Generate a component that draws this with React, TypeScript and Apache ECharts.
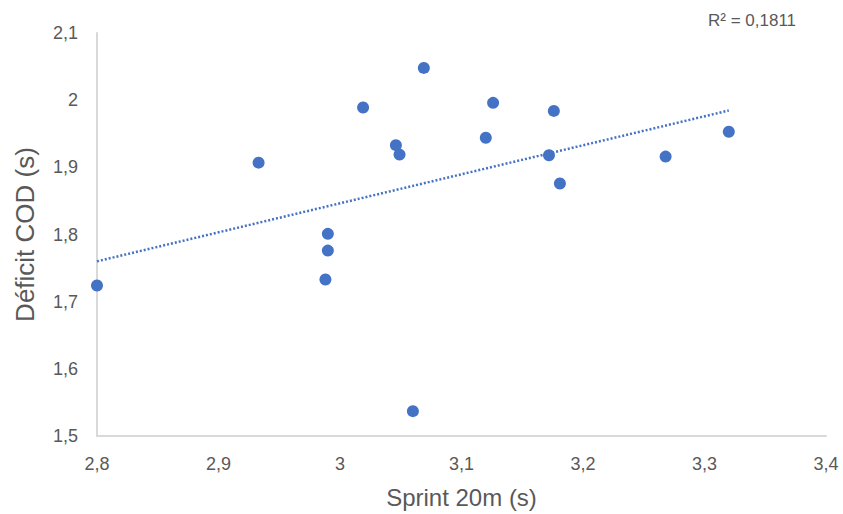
import React, { useEffect, useRef } from "react";
import * as echarts from "echarts";

const sprint20m: number[] = [2.8, 2.933, 2.99, 2.99, 2.988, 3.019, 3.046, 3.049, 3.069, 3.06, 3.12, 3.126, 3.172, 3.176, 3.181, 3.268, 3.32];
const deficitCOD: number[] = [1.724, 1.907, 1.801, 1.776, 1.733, 1.989, 1.933, 1.919, 2.048, 1.537, 1.944, 1.996, 1.918, 1.984, 1.876, 1.916, 1.953];
const r2Label = "R² = 0,1811";
const xTitle = "Sprint 20m (s)";
const yTitle = "Déficit COD (s)";

function regression(xs: number[], ys: number[]) {
  const n = xs.length;
  const mx = xs.reduce((a, b) => a + b, 0) / n;
  const my = ys.reduce((a, b) => a + b, 0) / n;
  let sxy = 0, sxx = 0;
  for (let i = 0; i < n; i++) {
    sxy += (xs[i] - mx) * (ys[i] - my);
    sxx += (xs[i] - mx) ** 2;
  }
  const slope = sxy / sxx;
  const intercept = my - slope * mx;
  return { slope, intercept };
}

const fmt = (v: number) => String(Math.round(v * 10) / 10).replace(".", ",");

export default function App() {
  const ref = useRef<HTMLDivElement>(null);
  useEffect(() => {
    if (!ref.current) return;
    const chart = echarts.init(ref.current, null, { renderer: "svg" });
    const { slope, intercept } = regression(sprint20m, deficitCOD);
    const xMin = Math.min(...sprint20m);
    const xMax = Math.max(...sprint20m);
    const trend = [
      [xMin, intercept + slope * xMin],
      [xMax, intercept + slope * xMax],
    ];
    const font = "'Liberation Sans', Arial, sans-serif";
    chart.setOption({
      animation: false,
      backgroundColor: "#ffffff",
      grid: { left: 97, right: 17, top: 33, bottom: 71 },
      xAxis: {
        type: "value",
        min: 2.8,
        max: 3.4,
        interval: 0.1,
        name: xTitle,
        nameLocation: "middle",
        nameGap: 49,
        nameTextStyle: { fontSize: 24, color: "#595959", fontFamily: font },
        axisLine: { show: true, lineStyle: { color: "#d9d9d9", width: 2 } },
        axisTick: { show: false },
        splitLine: { show: false },
        axisLabel: { formatter: fmt, fontSize: 18, color: "#595959", fontFamily: font, margin: 19 },
      },
      yAxis: {
        type: "value",
        min: 1.5,
        max: 2.1,
        interval: 0.1,
        name: yTitle,
        nameLocation: "middle",
        nameGap: 59,
        nameTextStyle: { fontSize: 26, color: "#595959", fontFamily: font },
        axisLine: { show: true, lineStyle: { color: "#d9d9d9", width: 2 } },
        axisTick: { show: false },
        splitLine: { show: false },
        axisLabel: { formatter: fmt, fontSize: 18, color: "#595959", fontFamily: font, margin: 19 },
      },
      series: [
        {
          type: "line",
          data: trend,
          symbol: "none",
          lineStyle: { color: "#4472C4", width: 2.5, type: [2, 2] },
          z: 1,
        },
        {
          type: "scatter",
          data: sprint20m.map((x, i) => [x, deficitCOD[i]]),
          symbolSize: 12,
          itemStyle: { color: "#4472C4", opacity: 1 },
          z: 2,
        },
      ],
      graphic: [
        {
          type: "text",
          left: 708,
          top: 12,
          style: { text: r2Label, fontSize: 17, fill: "#595959", fontFamily: font },
        },
      ],
    });
    return () => chart.dispose();
  }, []);
  return <div ref={ref} style={{ width: 843, height: 514, position: "absolute", left: 0, top: 0 }} />;
}
